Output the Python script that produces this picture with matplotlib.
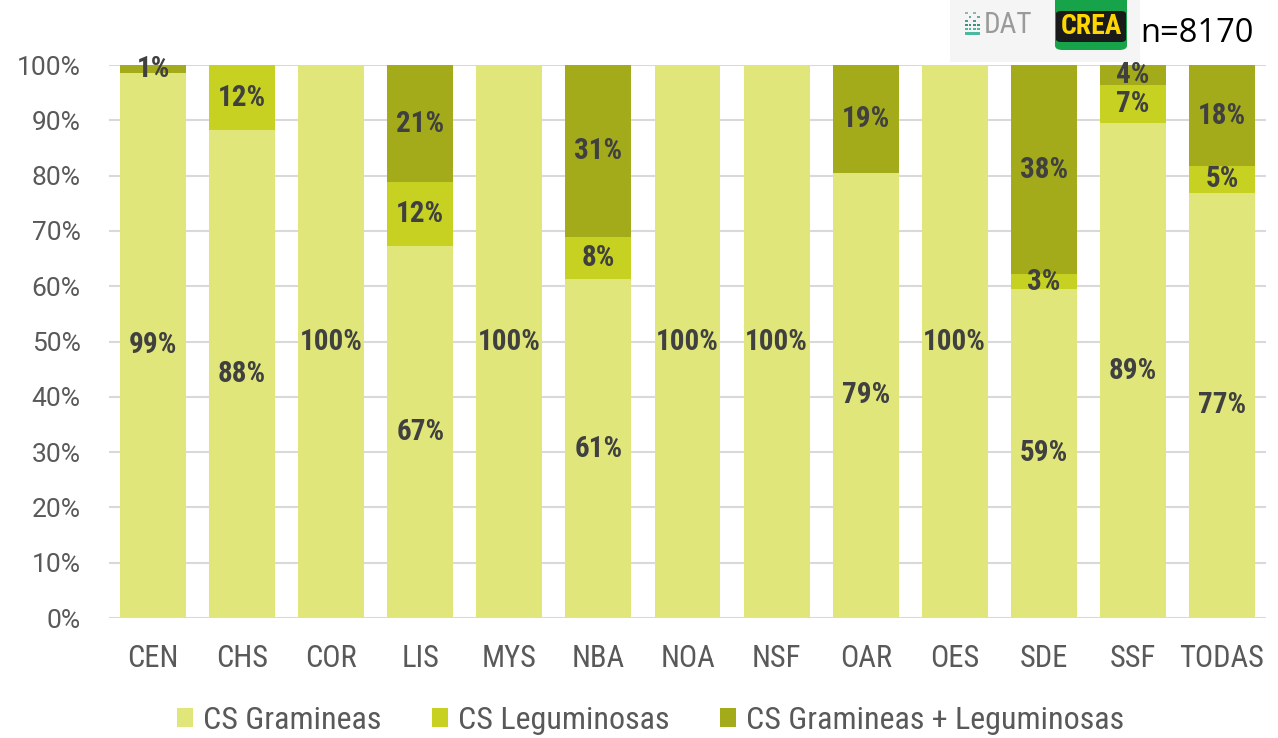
import matplotlib
matplotlib.use("Agg")
import matplotlib.pyplot as plt
from matplotlib.patches import Rectangle, FancyBboxPatch
from matplotlib import font_manager as fm
import numpy as np

names = {f.name for f in fm.fontManager.ttflist}
cond = [n for n in ["Roboto Condensed", "Roboto", "DejaVu Sans"] if n in names]
reg = [n for n in ["Roboto", "DejaVu Sans"] if n in names]
plt.rcParams['font.family'] = cond

categories = ["CEN", "CHS", "COR", "LIS", "MYS", "NBA", "NOA", "NSF", "OAR", "OES", "SDE", "SSF", "TODAS"]
gramineas = [98.6, 88.2, 100, 67.3, 100, 61.3, 100, 100, 80.5, 100, 59.5, 89.5, 76.9]
leguminosas = [0, 11.8, 0, 11.5, 0, 7.6, 0, 0, 0, 0, 2.7, 6.9, 4.8]
mixtas = [1.4, 0, 0, 21.2, 0, 31.1, 0, 0, 19.5, 0, 37.8, 3.6, 18.3]
lab_gram = ["99%", "88%", "100%", "67%", "100%", "61%", "100%", "100%", "79%", "100%", "59%", "89%", "77%"]
lab_leg = ["", "12%", "", "12%", "", "8%", "", "", "", "", "3%", "7%", "5%"]
lab_mix = ["1%", "", "", "21%", "", "31%", "", "", "19%", "", "38%", "4%", "18%"]
series_names = ["CS Gramineas", "CS Leguminosas", "CS Gramineas + Leguminosas"]
colors = ["#e0e67a", "#c6d121", "#a4ab1a"]

fig = plt.figure(figsize=(12.78, 7.38), dpi=100)
ax = fig.add_axes([0.0849, 0.1626, 0.991 - 0.0849, 0.9119 - 0.1626])
x = np.arange(len(categories))
w = 0.74
g = np.array(gramineas); l = np.array(leguminosas); m = np.array(mixtas)
b1 = ax.bar(x, g, w, color=colors[0], label=series_names[0], zorder=2)
b2 = ax.bar(x, l, w, bottom=g, color=colors[1], label=series_names[1], zorder=2)
b3 = ax.bar(x, m, w, bottom=g + l, color=colors[2], label=series_names[2], zorder=2)

lab_kw = dict(ha="center", va="center", fontsize=21, fontweight="bold", color="#404040", zorder=3)
for i in range(len(x)):
    if lab_gram[i]:
        ax.text(x[i], g[i] / 2, lab_gram[i], **lab_kw)
    if lab_leg[i]:
        ax.text(x[i], g[i] + l[i] / 2, lab_leg[i], **lab_kw)
    if lab_mix[i]:
        ax.text(x[i], g[i] + l[i] + m[i] / 2, lab_mix[i], **lab_kw)

ax.set_xlim(-0.5, 12.5)
ax.set_ylim(0, 100)
ax.set_yticks(np.arange(0, 101, 10))
ax.set_yticklabels([f"{v}%" for v in range(0, 101, 10)], family=reg, fontsize=19)
ax.set_xticks(x)
ax.set_xticklabels(categories, fontsize=22)
ax.tick_params(axis="both", length=0, labelcolor="#595959")
ax.tick_params(axis="y", pad=20)
ax.tick_params(axis="x", pad=19)
ax.grid(axis="y", color="#d9d9d9", linewidth=1.5, zorder=0)
ax.set_axisbelow(True)
for s in ax.spines.values():
    s.set_visible(False)

leg = fig.legend(handles=[b1, b2, b3], labels=series_names, loc="center", bbox_to_anchor=(0.509, 0.024),
                 ncol=3, frameon=False, fontsize=23, handlelength=0.5, handleheight=0.5,
                 handletextpad=0.3, columnspacing=1.6)
for t in leg.get_texts():
    t.set_color("#595959")

# logos area (top right)
fig.patches.append(Rectangle((950 / 1278, 1 - 62 / 738), 190 / 1278, 62 / 738,
                             transform=fig.transFigure, facecolor="#f5f5f5", edgecolor="none", zorder=5))
dot_cols = ["#8fb8b0", "#6aa89a", "#4f9a8a", "#3f9080", "#4db8a0"]
for r in range(5):
    for c in range(4):
        if (r + c) % 2 == 0 or r >= 3:
            fig.patches.append(Rectangle(((965 + c * 4) / 1278, 1 - (14 + r * 4) / 738), 2.5 / 1278, 2.5 / 738,
                                         transform=fig.transFigure,
                                         facecolor=dot_cols[r], edgecolor="none", zorder=6))
fig.patches.append(Rectangle((965 / 1278, 1 - 35 / 738), 15 / 1278, 3 / 738,
                             transform=fig.transFigure, facecolor="#4db8a0", edgecolor="none", zorder=6))
fig.text(984 / 1278, 1 - 25 / 738, "DAT", fontsize=21, color="#9a9a9a", ha="left", va="center", zorder=7)
fig.patches.append(FancyBboxPatch((1055 / 1278, 1 - 50 / 738), 72 / 1278, 54 / 738,
                                  boxstyle="round,pad=0,rounding_size=0.006", transform=fig.transFigure,
                                  facecolor="#16a34a", edgecolor="none", zorder=6))
fig.patches.append(FancyBboxPatch((1056 / 1278, 1 - 42 / 738), 70 / 1278, 31 / 738,
                                  boxstyle="round,pad=0,rounding_size=0.004", transform=fig.transFigure,
                                  facecolor="#1a1a1a", edgecolor="none", zorder=7))
fig.text(1091 / 1278, 1 - 26.5 / 738, "CREA", fontsize=20, fontweight="bold", color="#ffd700",
         ha="center", va="center", zorder=8)
fig.text(1140 / 1278, 1 - 33 / 738, "n=8170", fontsize=23.5, color="#000000", ha="left", va="center",
         family=["Open Sans", "DejaVu Sans"], zorder=8)

fig.savefig("out.png", dpi=100)
